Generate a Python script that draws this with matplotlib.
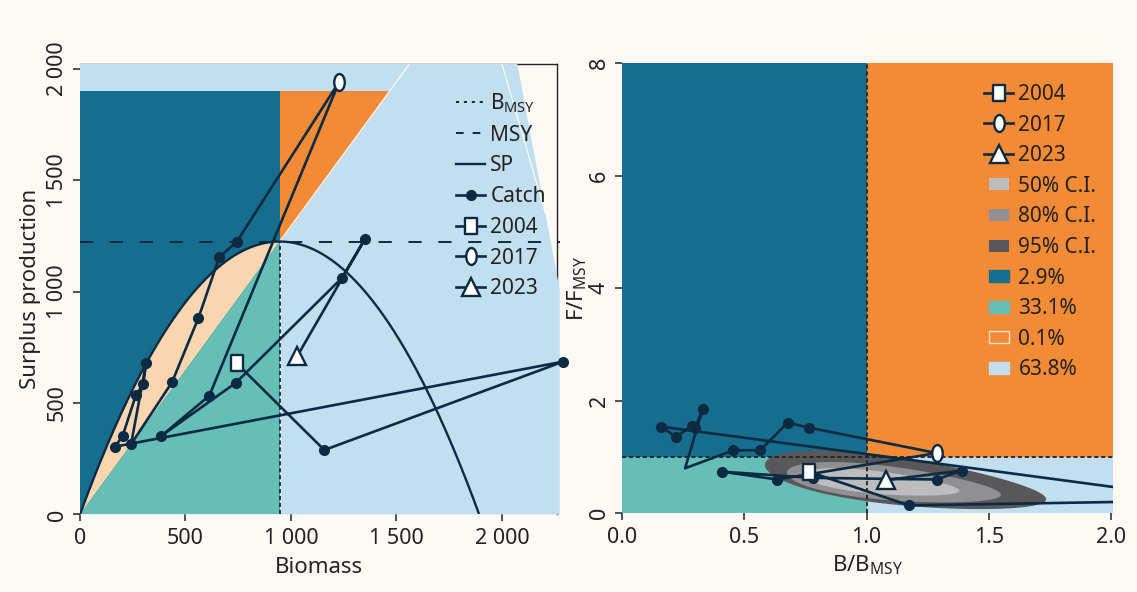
import numpy as np
import matplotlib
matplotlib.use("Agg")
import matplotlib.pyplot as plt
from matplotlib.path import Path
from matplotlib.patches import Polygon, Rectangle
from matplotlib.lines import Line2D

plt.rcParams['font.family'] = ['Noto Sans', 'DejaVu Sans']
plt.rcParams['mathtext.fontset'] = 'custom'
plt.rcParams['mathtext.rm'] = 'Noto Sans'
plt.rcParams['mathtext.it'] = 'Noto Sans'
plt.rcParams['lines.scale_dashes'] = False

# ---------------- data ----------------
years = list(range(2004, 2024))
# left panel: biomass vs catch
biomass = [743, 1158, 2291, 166, 202, 265, 300, 313, 242, 436, 561, 660, 743,
           1229, 613, 385, 739, 1240, 1351, 1030]
catch = [678, 289, 686, 304, 352, 536, 584, 678, 315, 593, 881, 1154, 1224,
         1943, 533, 352, 591, 1060, 1237, 711]
# right panel: relative biomass and fishing mortality
b_bmsy = [0.763, 1.174, 2.42, 0.158, 0.220, 0.285, 0.297, 0.329, 0.257, 0.455,
          0.564, 0.677, 0.766, 1.287, 0.635, 0.407, 0.780, 1.287, 1.390, 1.080]
f_fmsy = [0.74, 0.14, 0.23, 1.54, 1.36, 1.55, 1.51, 1.85, 0.80, 1.12,
          1.12, 1.61, 1.52, 1.07, 0.60, 0.74, 0.63, 0.60, 0.76, 0.59]
marked_years = [2004, 2017, 2023]
no_dot_right = [2012]

BMSY = 946
MSY = 1225
K = 2 * BMSY
TOP_BAND = 1900

ci_labels = ["50% C.I.", "80% C.I.", "95% C.I."]
ci_colors = ["#bdbdbf", "#909092", "#58585a"]
ci_left_end = [(0.746, 0.68), (0.674, 0.72), (0.584, 0.86)]
ci_right_end = [(1.38, 0.40), (1.55, 0.33), (1.735, 0.25)]
ci_half_height = [0.20, 0.30, 0.42]

quad_labels = ["2.9%", "33.1%", "0.1%", "63.8%"]

# ---------------- style ----------------
BG = "#fdfaf5"
NAVY = "#0c2a42"
DARKBLUE = "#166d8e"
ORANGE = "#f38a35"
TEAL = "#66bfb7"
LIGHTBLUE = "#c2dff0"
PEACH = "#f9d5b0"

rect_path = Path([(-0.36, -0.5), (0.36, -0.5), (0.36, 0.5), (-0.36, 0.5), (-0.36, -0.5)],
                 [Path.MOVETO, Path.LINETO, Path.LINETO, Path.LINETO, Path.CLOSEPOLY])
uc = Path.unit_circle()
ell_path = Path(uc.vertices * np.array([0.62, 1.0]), uc.codes)
box_path = Path([(-0.5, -0.34), (0.5, -0.34), (0.5, 0.34), (-0.5, 0.34), (-0.5, -0.34)],
                [Path.MOVETO, Path.LINETO, Path.LINETO, Path.LINETO, Path.CLOSEPOLY])

marker_styles = {2004: dict(marker=rect_path, ms=11.5),
                 2017: dict(marker=ell_path, ms=12.2),
                 2023: dict(marker='^', ms=13)}

fig = plt.figure(figsize=(11.37, 5.92), dpi=100, facecolor=BG)

FS_TICK = 15.5
FS_LAB = 16
FS_LEG = 15
LW = 1.9
MS_DOT = 7

# =============== left panel ===============
ax1 = fig.add_axes([80 / 1137, 1 - 514.4 / 592, 477 / 1137, 450.4 / 592])
ax1.set_facecolor('none')
ax1.set_xlim(0, 2261)
ax1.set_ylim(0, 2022)
xr = 2274
ax1.add_patch(Polygon([(0, 0), (xr, 0), (xr, 1008), (2073, 2022), (0, 2022)],
                      closed=True, fc=LIGHTBLUE, ec='none', zorder=2.6, clip_on=False))
ax1.add_patch(Polygon([(0, 0), (BMSY, 0), (BMSY, TOP_BAND), (0, TOP_BAND)],
                      closed=True, fc=DARKBLUE, ec='none', zorder=2.61))
bb = np.linspace(0, BMSY, 200)
sp_left = 4 * MSY * bb / K * (1 - bb / K)
ax1.add_patch(Polygon(np.column_stack([bb, sp_left]), closed=True, fc=PEACH, ec='none', zorder=2.62))
ax1.add_patch(Polygon([(0, 0), (BMSY, MSY), (BMSY, 0)], closed=True, fc=TEAL, ec='none', zorder=2.63))
ax1.add_patch(Polygon([(BMSY, MSY), (BMSY, TOP_BAND), (TOP_BAND * BMSY / MSY, TOP_BAND)],
                      closed=True, fc=ORANGE, ec='none', zorder=2.63))
ax1.plot([BMSY, 2022 * BMSY / MSY], [MSY, 2022], color='white', lw=0.8, zorder=2.7)
ax1.plot([2000, 2206], [2022, 1352], color='white', lw=0.8, zorder=2.7)
ax1.plot([BMSY, BMSY], [0, MSY], color='white', lw=0.8, zorder=2.7)
ax1.plot([BMSY, BMSY], [0, MSY], color=NAVY, lw=1.3, ls=(0, (3, 2)), zorder=2.8)
ax1.plot([0, xr], [MSY, MSY], color=NAVY, lw=1.4, ls=(0, (9.5, 12)), zorder=2.8, clip_on=False)
bs = np.linspace(0, 1960, 300)
ax1.plot(bs, 4 * MSY * bs / K * (1 - bs / K), color=NAVY, lw=1.7, zorder=2.9)

ax1.plot(biomass, catch, color=NAVY, lw=LW, zorder=4, clip_on=False)
dots = [(b, c) for y, b, c in zip(years, biomass, catch) if y not in marked_years]
ax1.plot([d[0] for d in dots], [d[1] for d in dots], 'o', color=NAVY, ms=MS_DOT, zorder=5, clip_on=False)
for y in marked_years:
    i = years.index(y)
    ax1.plot(biomass[i], catch[i], ls='none', mfc='white', mec=NAVY, mew=1.7, zorder=6,
             clip_on=False, **marker_styles[y])

for s in ['left', 'bottom']:
    ax1.spines[s].set_visible(False)
for s in ['top', 'right']:
    ax1.spines[s].set_color('#222222')
    ax1.spines[s].set_linewidth(1.0)
ax1.set_xticks([0, 500, 1000, 1500, 2000])
ax1.set_xticklabels(["0", "500", "1 000", "1 500", "2 000"], fontsize=FS_TICK)
ax1.set_yticks([0, 500, 1000, 1500, 2000])
ax1.set_yticklabels(["0", "500", "1 000", "1 500", "2 000"], fontsize=FS_TICK,
                    rotation=90, va='center')
ax1.tick_params(direction='out', length=5, width=1.1, color='#222222', labelcolor='#222222')
ax1.tick_params(axis='x', pad=5)
ax1.tick_params(axis='y', pad=4)
ax1.set_xlabel("Biomass", fontsize=FS_LAB, color='#222222', labelpad=5.5)
ax1.set_ylabel("Surplus production", fontsize=FS_LAB, color='#222222', labelpad=4)

h1 = [Line2D([], [], color=NAVY, lw=1.4, ls=(0, (2.2, 3.5))),
      Line2D([], [], color=NAVY, lw=1.4, ls=(0, (5.5, 6.5))),
      Line2D([], [], color=NAVY, lw=1.7),
      Line2D([], [], color=NAVY, lw=LW, marker='o', ms=MS_DOT),
      Line2D([], [], color=NAVY, lw=LW, mfc='white', mec=NAVY, mew=1.7, **marker_styles[2004]),
      Line2D([], [], color=NAVY, lw=LW, mfc='white', mec=NAVY, mew=1.7, **marker_styles[2017]),
      Line2D([], [], color=NAVY, lw=LW, mfc='white', mec=NAVY, mew=1.7, **marker_styles[2023])]
l1 = ["B$_{\\mathrm{MSY}}$", "MSY", "SP", "Catch", "2004", "2017", "2023"]
leg1 = ax1.legend(h1, l1, loc='upper left', bbox_to_anchor=(456 / 1137, 1 - 91.5 / 592),
                  bbox_transform=fig.transFigure, frameon=False, fontsize=FS_LEG,
                  handlelength=1.4, handletextpad=0.25, labelspacing=0.465, borderpad=0,
                  borderaxespad=0)
leg1.set_zorder(10)
for t in leg1.get_texts():
    t.set_color('#222222')

# =============== right panel ===============
ax2 = fig.add_axes([622.3 / 1137, 1 - 513.3 / 592, 491 / 1137, 450.3 / 592])
ax2.set_facecolor('none')
XR = 2.01
ax2.set_xlim(0, XR)
ax2.set_ylim(0, 8)
ax2.add_patch(Rectangle((0, 1), 1, 7, fc=DARKBLUE, ec='none', zorder=1))
ax2.add_patch(Rectangle((1, 1), XR - 1, 7, fc=ORANGE, ec='none', zorder=1))
ax2.add_patch(Rectangle((0, 0), 1, 1, fc=TEAL, ec='none', zorder=1))
ax2.add_patch(Rectangle((1, 0), XR - 1, 1, fc=LIGHTBLUE, ec='none', zorder=1))

t = np.linspace(0, 2 * np.pi, 300)
for k in [2, 1, 0]:
    (lx, ly), (rx, ry), hh = ci_left_end[k], ci_right_end[k], ci_half_height[k]
    frac = (1 - np.cos(t)) / 2
    ex = lx + frac * (rx - lx)
    ey = ly + frac * (ry - ly) + hh * np.sin(t) * (1 + 0.2 * np.cos(t))
    ax2.add_patch(Polygon(np.column_stack([ex, ey]), closed=True, fc=ci_colors[k], ec='none', zorder=2))

ax2.plot([1, 1], [0, 8], color='#222222', lw=1.3, ls=(0, (3, 2)), zorder=3)
ax2.plot([0, XR], [1, 1], color='#222222', lw=1.3, ls=(0, (3, 2)), zorder=3)

ax2.plot(b_bmsy, f_fmsy, color=NAVY, lw=LW, zorder=4)
dots2 = [(b, f) for y, b, f in zip(years, b_bmsy, f_fmsy)
         if y not in marked_years and y not in no_dot_right]
ax2.plot([d[0] for d in dots2], [d[1] for d in dots2], 'o', color=NAVY, ms=MS_DOT, zorder=5)
for y in marked_years:
    i = years.index(y)
    ax2.plot(b_bmsy[i], f_fmsy[i], ls='none', mfc='white', mec=NAVY, mew=1.7, zorder=6,
             **marker_styles[y])

for s in ax2.spines.values():
    s.set_visible(False)
ax2.set_xticks([0, 0.5, 1.0, 1.5, 2.0])
ax2.set_xticklabels(["0.0", "0.5", "1.0", "1.5", "2.0"], fontsize=FS_TICK)
ax2.set_yticks([0, 2, 4, 6, 8])
ax2.set_yticklabels(["0", "2", "4", "6", "8"], fontsize=FS_TICK, rotation=90, va='center')
ax2.tick_params(direction='out', length=5, width=1.1, color='#222222', labelcolor='#222222')
ax2.tick_params(axis='x', pad=5)
ax2.tick_params(axis='y', pad=4)
ax2.set_xlabel("B/B$_{\\mathrm{MSY}}$", fontsize=FS_LAB, color='#222222', labelpad=4)
ax2.set_ylabel("F/F$_{\\mathrm{MSY}}$", fontsize=FS_LAB, color='#222222', labelpad=0)

h2 = [Line2D([], [], color=NAVY, lw=LW, mfc='white', mec=NAVY, mew=1.7, **marker_styles[2004]),
      Line2D([], [], color=NAVY, lw=LW, mfc='white', mec=NAVY, mew=1.7, **marker_styles[2017]),
      Line2D([], [], color=NAVY, lw=LW, mfc='white', mec=NAVY, mew=1.7, **marker_styles[2023])]
for c in ci_colors:
    h2.append(Line2D([], [], ls='none', marker=box_path, ms=13.7, mfc=c, mec=c, mew=0))
quad_fc = [DARKBLUE, TEAL, ORANGE, LIGHTBLUE]
quad_ec = [DARKBLUE, TEAL, "#fde2c6", LIGHTBLUE]
for fc, ec in zip(quad_fc, quad_ec):
    h2.append(Line2D([], [], ls='none', marker=box_path, ms=13.7, mfc=fc, mec=ec, mew=1.0))
l2 = ["2004", "2017", "2023"] + ci_labels + quad_labels
leg2 = ax2.legend(h2, l2, loc='upper left', bbox_to_anchor=(984 / 1137, 1 - 84 / 592),
                  bbox_transform=fig.transFigure, frameon=False, fontsize=FS_LEG,
                  handlelength=1.4, handletextpad=0.25, labelspacing=0.46, borderpad=0,
                  borderaxespad=0)
leg2.set_zorder(10)
for tx in leg2.get_texts():
    tx.set_color('#222222')

fig.savefig("out.png", dpi=100, facecolor=BG)
